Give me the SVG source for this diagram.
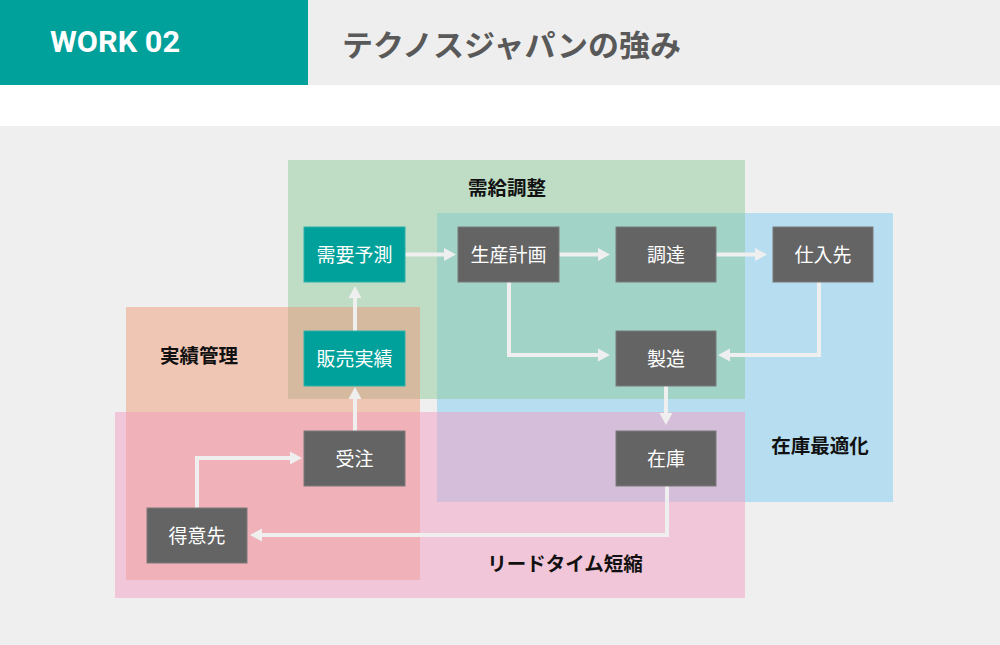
<svg xmlns="http://www.w3.org/2000/svg" width="1000" height="645" viewBox="0 0 1000 645">
<style>
.node{fill:#646464;stroke:#7a7a7a;stroke-width:1}
.teal{fill:#00a19a;stroke:#2fb0a9}
.nl{font-family:"Noto Sans CJK JP","Noto Sans",sans-serif;font-size:19px;fill:#ffffff;text-anchor:middle}
.rl{font-family:"Noto Sans CJK JP","Noto Sans",sans-serif;font-size:19.5px;font-weight:bold;fill:#111111;text-anchor:middle}
.c{fill:none;stroke:#efefef;stroke-width:4;marker-end:url(#ah)}
</style>
<defs>
<marker id="ah" markerUnits="userSpaceOnUse" markerWidth="14" markerHeight="14" refX="6" refY="7" orient="auto" viewBox="0 0 14 14">
<path d="M0,0.5 L12,7 L0,13.5 Z" fill="#efefef"/>
</marker>
</defs>
<rect x="0" y="0" width="1000" height="645" fill="#ffffff"/>
<rect x="0" y="126" width="1000" height="519" fill="#efefef"/>
<g id="header">
<rect x="0" y="0" width="308" height="85" fill="#00a19a"/>
<rect x="308" y="0" width="692" height="85" fill="#eeeeee"/>
<text x="50" y="52" font-family="Roboto,'Liberation Sans',sans-serif" font-weight="bold" font-size="29" fill="#ffffff" textLength="130" lengthAdjust="spacingAndGlyphs">WORK 02</text>
<text x="342" y="56" font-family="'Noto Sans CJK JP','Noto Sans',sans-serif" font-weight="bold" font-size="30" fill="#595959" textLength="339" lengthAdjust="spacingAndGlyphs">テクノスジャパンの強み</text>
</g>
<g id="regions">
<rect x="288" y="160" width="457" height="239" fill="#bfdcc4"/>
<rect x="437" y="213" width="456" height="289" fill="#b6ddf0"/>
<rect x="126" y="307" width="294" height="273" fill="#efc5b4"/>
<rect x="115" y="412" width="630" height="186" fill="#f1c6d8"/>
<rect x="437" y="213" width="308" height="186" fill="#a1d4c6"/>
<rect x="288" y="307" width="132" height="92" fill="#d6baa0"/>
<rect x="126" y="412" width="294" height="168" fill="#f1b1b9"/>
<rect x="437" y="412" width="308" height="90" fill="#d5bed9"/>
</g>
<g id="region-labels">
<text class="rl" x="507" y="195">需給調整</text>
<text class="rl" x="199" y="363">実績管理</text>
<text class="rl" x="820" y="453">在庫最適化</text>
<text class="rl" x="565" y="571">リードタイム短縮</text>
</g>
<g id="connectors">
<path class="c" d="M405,254.5 H450"/>
<path class="c" d="M558,254.5 H604"/>
<path class="c" d="M716,254.5 H761"/>
<path class="c" d="M509,282 V355 H604"/>
<path class="c" d="M819,282 V355 H724"/>
<path class="c" d="M666,386 V419"/>
<path class="c" d="M667,486 V535 H256"/>
<path class="c" d="M197,508 V458 H296"/>
<path class="c" d="M355,431 V393"/>
<path class="c" d="M355,331 V292"/>
</g>
<g id="n-juyoyosoku"><rect class="node teal" x="304" y="227" width="101" height="55"/><text class="nl" x="354.5" y="261.5">需要予測</text></g>
<g id="n-hanbaijisseki"><rect class="node teal" x="304" y="331" width="101" height="55"/><text class="nl" x="354.5" y="365.5">販売実績</text></g>
<g id="n-seisankeikaku"><rect class="node" x="458" y="227" width="101" height="55"/><text class="nl" x="508.5" y="261.5">生産計画</text></g>
<g id="n-chotatsu"><rect class="node" x="616" y="227" width="100" height="55"/><text class="nl" x="666" y="261.5">調達</text></g>
<g id="n-shiiresaki"><rect class="node" x="773" y="227" width="100" height="55"/><text class="nl" x="823" y="261.5">仕入先</text></g>
<g id="n-seizo"><rect class="node" x="616" y="331" width="100" height="55"/><text class="nl" x="666" y="365.5">製造</text></g>
<g id="n-zaiko"><rect class="node" x="616" y="431" width="100" height="55"/><text class="nl" x="666" y="465.5">在庫</text></g>
<g id="n-juchu"><rect class="node" x="304" y="431" width="101" height="55"/><text class="nl" x="354.5" y="465.5">受注</text></g>
<g id="n-tokuisaki"><rect class="node" x="147" y="508" width="100" height="55"/><text class="nl" x="197" y="542.5">得意先</text></g>
</svg>
